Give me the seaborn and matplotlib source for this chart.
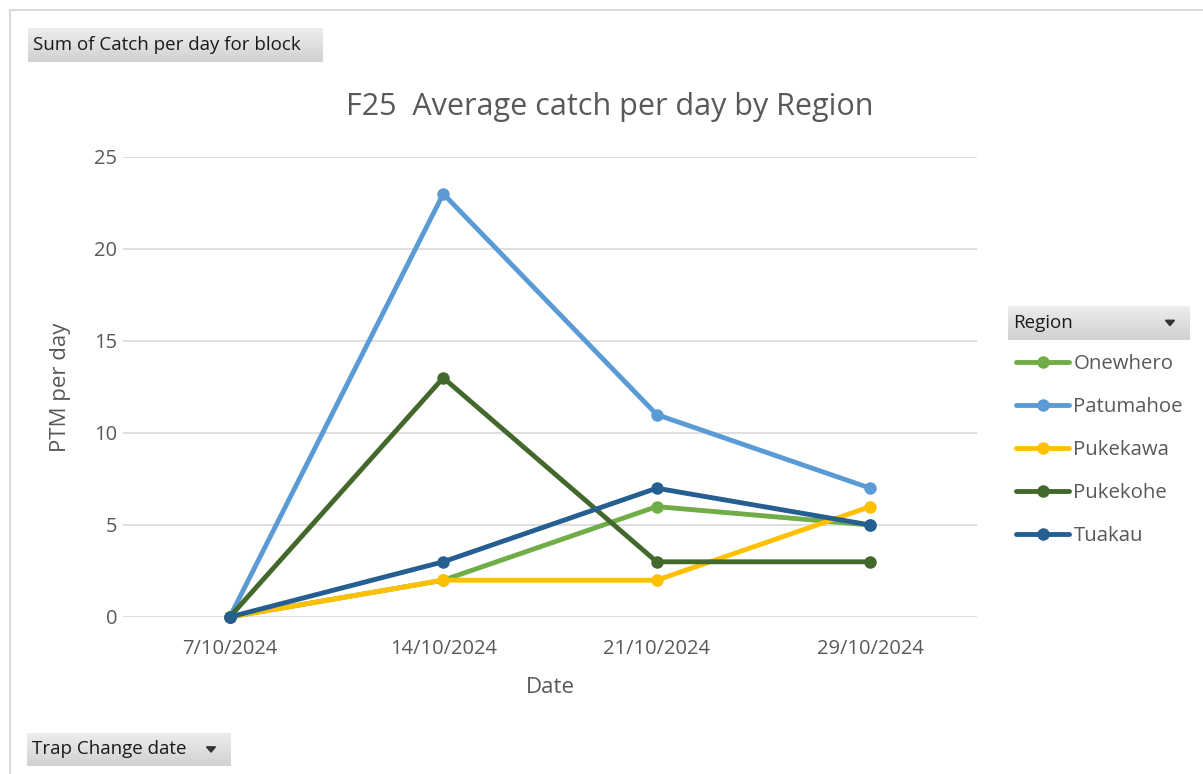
import matplotlib
matplotlib.use('Agg')
import matplotlib.pyplot as plt
from matplotlib.patches import Rectangle, Polygon
import numpy as np
import pandas as pd
import seaborn as sns

# data
dates = ['7/10/2024', '14/10/2024', '21/10/2024', '29/10/2024']
regions = ['Onewhero', 'Patumahoe', 'Pukekawa', 'Pukekohe', 'Tuakau']
onewhero = [0, 2, 6, 5]
patumahoe = [0, 23, 11, 7]
pukekawa = [0, 2, 2, 6]
pukekohe = [0, 13, 3, 3]
tuakau = [0, 3, 7, 5]
colours = ['#70AD47', '#5B9BD5', '#FFC000', '#43682B', '#255E91']

W, H = 1203, 774


def button(fig, x0, y0, x1, y1, label, arrow=False):
	''' grey gradient pivot button, pixel coords from top left'''
	ax = fig.add_axes([x0 / W, 1 - y1 / H, (x1 - x0) / W, (y1 - y0) / H])
	grad = np.linspace(0.93, 0.82, 50).reshape(-1, 1)
	ax.imshow(np.dstack([grad, grad, grad]), aspect='auto', extent=[0, 1, 0, 1], origin='upper')
	ax.set_xlim(0, 1)
	ax.set_ylim(0, 1)
	ax.axis('off')
	ax.text(5 / (x1 - x0), 0.5, label, fontsize=13.5, color='#1a1a1a', va='center', ha='left')
	if arrow:
		cx = 1 - 20 / (x1 - x0)
		dx = 4.5 / (x1 - x0)
		ax.add_patch(Polygon([[cx - dx, 0.58], [cx + dx, 0.58], [cx, 0.42]], closed=True, color='#333333'))


def main():
	sns.set_style('white')
	plt.rcParams['font.family'] = ['Open Sans', 'DejaVu Sans']

	df = pd.DataFrame({
		'Date': dates * len(regions),
		'Region': np.repeat(regions, len(dates)),
		'PTM': onewhero + patumahoe + pukekawa + pukekohe + tuakau,
	})

	fig = plt.figure(figsize=(W / 100, H / 100), dpi=100)
	fig.patch.set_facecolor('white')

	# outer frame
	fig.add_artist(Rectangle((10 / W, -0.1), 1.2, 1 - 10 / H + 0.1, transform=fig.transFigure,
		fill=False, edgecolor='#D9D9D9', linewidth=1.5))

	ax = fig.add_axes([123 / W, 157 / H, 854 / W, 460 / H])
	sns.lineplot(data=df, x='Date', y='PTM', hue='Region', hue_order=regions,
		palette=colours, marker='o', markersize=9, markeredgewidth=0,
		linewidth=3.5, ax=ax, legend=False, sort=False)

	ax.set_xlim(-0.5, 3.5)
	ax.set_ylim(0, 25)
	ax.set_yticks([0, 5, 10, 15, 20, 25])
	ax.yaxis.grid(True, color='#D9D9D9', linewidth=1.2)
	ax.set_axisbelow(True)
	for s in ax.spines.values():
		s.set_visible(False)
	ax.tick_params(axis='both', length=0, labelsize=14.5, colors='#595959')
	ax.tick_params(axis='x', pad=16)
	ax.tick_params(axis='y', pad=4)
	ax.set_xlabel('Date', fontsize=16, color='#595959', labelpad=13)
	ax.set_ylabel('PTM per day', fontsize=16, color='#595959', labelpad=17)
	for line in ax.lines:
		line.set_clip_on(False)

	fig.text(610 / W, 1 - 107 / H, 'F25  Average catch per day by Region', fontsize=22,
		color='#595959', ha='center', va='center')

	# legend
	handles = [plt.Line2D([], [], color=c, linewidth=3.5, marker='o', markersize=9, markeredgewidth=0)
		for c in colours]
	fig.legend(handles, regions, loc='upper left', bbox_to_anchor=(1002 / W, 1 - 340 / H),
		frameon=False, fontsize=14.7, labelcolor='#595959', handlelength=2.6,
		handletextpad=0.2, labelspacing=1.12, borderpad=0.2)

	button(fig, 28, 28, 323, 62, 'Sum of Catch per day for block')
	button(fig, 1008, 306, 1190, 340, 'Region', arrow=True)
	button(fig, 27, 733, 231, 766, 'Trap Change date', arrow=True)

	plt.savefig('out.png', dpi=100)


if __name__ == '__main__':
	main()
